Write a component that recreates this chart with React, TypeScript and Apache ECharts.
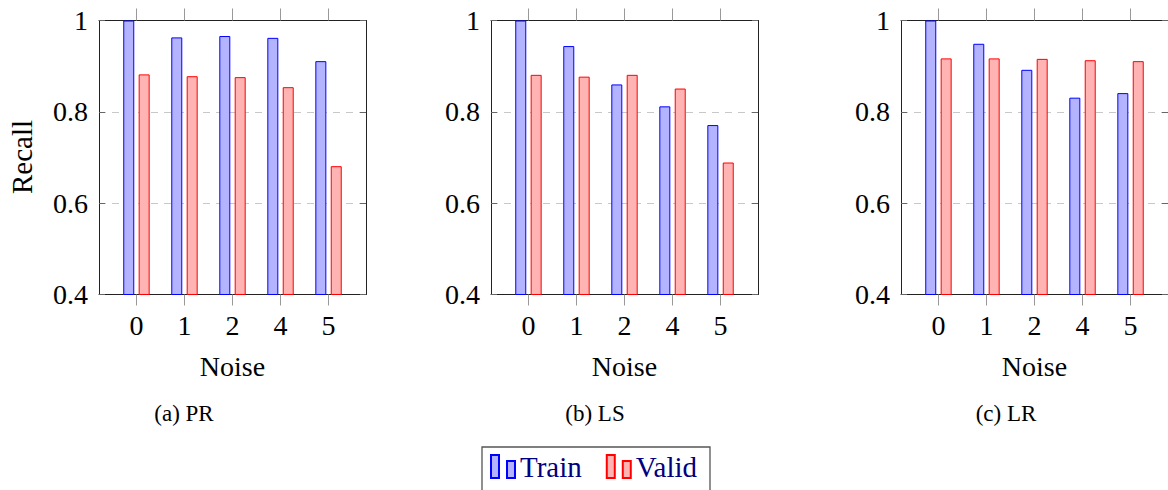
import React, { useEffect, useRef } from "react";
import * as echarts from "echarts";

const noiseLevels = ["0", "1", "2", "4", "5"];
const panelCaptions = ["(a) PR", "(b) LS", "(c) LR"];
const yTicks = [0.4, 0.6, 0.8, 1];

const prTrain = [1.0, 0.963, 0.966, 0.962, 0.911];
const prValid = [0.882, 0.878, 0.876, 0.854, 0.681];
const lsTrain = [1.0, 0.944, 0.86, 0.812, 0.771];
const lsValid = [0.881, 0.877, 0.881, 0.851, 0.689];
const lrTrain = [1.0, 0.949, 0.892, 0.831, 0.841];
const lrValid = [0.917, 0.917, 0.916, 0.913, 0.911];

const panels = [
  { train: prTrain, valid: prValid },
  { train: lsTrain, valid: lsValid },
  { train: lrTrain, valid: lrValid },
];

const FONT = "Liberation Serif";
const gridLefts = [99, 491, 901];
const captionX = [184, 595, 1006];
const GRID_TOP = 20.5;
const GRID_H = 274;
const GRID_W = 267;

export default function App() {
  const ref = useRef<HTMLDivElement>(null);

  useEffect(() => {
    if (!ref.current) return;
    const chart = echarts.init(ref.current, null, { renderer: "svg" });
    const tickIdx = noiseLevels.map((_, i) => i);

    const grids: any[] = [];
    const xAxes: any[] = [];
    const yAxes: any[] = [];
    const series: any[] = [];

    panels.forEach((p, gi) => {
      grids.push({ left: gridLefts[gi], top: GRID_TOP, width: GRID_W, height: GRID_H, containLabel: false });
      xAxes.push({
        type: "value",
        gridIndex: gi,
        position: "bottom",
        min: -0.78,
        max: noiseLevels.length - 1 + 0.78,
        axisLine: { show: true, onZero: false, lineStyle: { color: "#222", width: 1 } },
        axisTick: { show: true, inside: false, length: 11, customValues: tickIdx, lineStyle: { color: "#999", width: 1 } },
        axisLabel: {
          show: true,
          customValues: tickIdx,
          formatter: (v: number) => noiseLevels[Math.round(v)] ?? "",
          fontFamily: FONT,
          fontSize: 28,
          color: "#000",
          margin: 17,
        },
        splitLine: { show: false },
        name: "Noise",
        nameLocation: "middle",
        nameGap: 58,
        nameTextStyle: { fontFamily: FONT, fontSize: 28, color: "#000" },
      });
      xAxes.push({
        type: "value",
        gridIndex: gi,
        position: "top",
        min: -0.78,
        max: noiseLevels.length - 1 + 0.78,
        axisLine: { show: true, onZero: false, lineStyle: { color: "#222", width: 1 } },
        axisTick: { show: true, inside: false, length: 12, customValues: tickIdx, lineStyle: { color: "#999", width: 1 } },
        axisLabel: { show: false },
        splitLine: { show: false },
      });
      yAxes.push({
        type: "value",
        gridIndex: gi,
        position: "left",
        min: 0.4,
        max: 1,
        interval: 0.2,
        axisLine: { show: true, onZero: false, lineStyle: { color: "#222", width: 1 } },
        axisTick: { show: true, inside: true, length: 6, lineStyle: { color: "#666", width: 1 } },
        axisLabel: {
          show: true,
          customValues: yTicks,
          formatter: (v: number) => (Math.abs(v - 1) < 1e-9 ? "1" : v.toFixed(1)),
          fontFamily: FONT,
          fontSize: 28,
          color: "#000",
          margin: 11,
        },
        splitLine: { show: true, lineStyle: { color: "#c8c8c8", width: 1, type: [7, 6] } },
      });
      yAxes.push({
        type: "value",
        gridIndex: gi,
        position: "right",
        min: 0.4,
        max: 1,
        interval: 0.2,
        axisLine: { show: true, onZero: false, lineStyle: { color: "#222", width: 1 } },
        axisTick: { show: true, inside: true, length: 6, lineStyle: { color: "#666", width: 1 } },
        axisLabel: { show: false },
        splitLine: { show: false },
      });
      const xi = gi * 2;
      const yi = gi * 2;
      series.push({
        type: "bar",
        name: "Train",
        xAxisIndex: xi,
        yAxisIndex: yi,
        data: p.train.map((v, i) => [i, v]),
        barWidth: 11,
        barGap: "40%",
        itemStyle: { color: "#b3b3ff", borderColor: "#0000ff", borderWidth: 1 },
      });
      series.push({
        type: "bar",
        name: "Valid",
        xAxisIndex: xi,
        yAxisIndex: yi,
        data: p.valid.map((v, i) => [i, v]),
        barWidth: 11,
        barGap: "40%",
        itemStyle: { color: "#ffb3b3", borderColor: "#ff0000", borderWidth: 1 },
      });
    });

    const graphics: any[] = [
      {
        type: "text",
        x: 22,
        y: 157,
        rotation: Math.PI / 2,
        style: {
          text: "Recall",
          fontFamily: FONT,
          fontSize: 29,
          fill: "#000",
          align: "center",
          verticalAlign: "middle",
          textAlign: "center",
          textVerticalAlign: "middle",
        },
      },
      ...panelCaptions.map((c, i) => ({
        type: "text",
        x: captionX[i],
        y: 413,
        style: {
          text: c,
          fontFamily: FONT,
          fontSize: 23,
          fill: "#000",
          align: "center",
          verticalAlign: "middle",
          textAlign: "center",
          textVerticalAlign: "middle",
        },
      })),
    ];

    chart.setOption({
      animation: false,
      grid: grids,
      xAxis: xAxes,
      yAxis: yAxes,
      series,
      legend: {
        data: ["Train", "Valid"],
        left: 482,
        top: 447,
        orient: "horizontal",
        padding: [5, 13, 30, 8],
        itemGap: 24,
        itemWidth: 24,
        itemHeight: 23,
        icon: "path://M0,0 h8 v23 h-8 Z M16,6 h8 v17 h-8 Z",
        selectedMode: false,
        borderColor: "#555",
        borderWidth: 1.3,
        textStyle: { fontFamily: FONT, fontSize: 29, color: "#000080" },
      },
      graphic: graphics,
    });

    return () => chart.dispose();
  }, []);

  return (
    <div
      ref={ref}
      style={{ position: "fixed", left: 0, top: 0, width: 1168, height: 490, background: "#fff" }}
    />
  );
}
